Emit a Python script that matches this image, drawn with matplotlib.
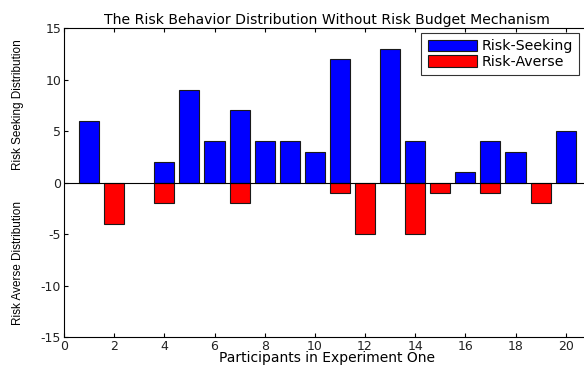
import matplotlib
matplotlib.use("Agg")
import matplotlib.pyplot as plt
import numpy as np

plt.rcParams["font.family"] = ["DejaVu Sans"]
plt.rcParams["axes.unicode_minus"] = False

participants = list(range(1, 21))
risk_seeking = [6, 0, 0, 2, 9, 4, 7, 4, 4, 3, 12, 0, 13, 4, 0, 1, 4, 3, 0, 5]
risk_averse = [0, -4, 0, -2, 0, 0, -2, 0, 0, 0, -1, -5, 0, -5, -1, 0, -1, 0, -2, 0]
x_ticks = list(range(0, 21, 2))
y_ticks = [-15, -10, -5, 0, 5, 10, 15]

fig = plt.figure(figsize=(5.84, 3.73), dpi=100)
ax = fig.add_axes([0.1096, 0.0965, 0.902, 0.8284])

seek = np.array(risk_seeking)
avert = np.array(risk_averse)
pos = np.array(participants)
ax.bar(pos[seek != 0], seek[seek != 0], width=0.8, color="#0000ff",
       edgecolor="#1a1a1a", linewidth=0.8, label="Risk-Seeking", zorder=2)
ax.bar(pos[avert != 0], avert[avert != 0], width=0.8, color="#ff0000",
       edgecolor="#1a1a1a", linewidth=0.8, label="Risk-Averse", zorder=2)
ax.axhline(0, color="black", linewidth=0.8, zorder=3)

ax.set_xlim(0, 21)
ax.set_ylim(-15, 15)
ax.set_xticks(x_ticks)
ax.set_yticks(y_ticks)
ax.tick_params(direction="in", top=True, right=False, labelsize=9, length=3,
               width=0.8, pad=2, labelcolor="#222222")
for s in ax.spines.values():
    s.set_linewidth(0.8)

ax.set_title("The Risk Behavior Distribution Without Risk Budget Mechanism",
             fontsize=10.1, pad=3)
ax.set_xlabel("Participants in Experiment One", fontsize=10, labelpad=-1)

fig.text(0.031, 0.72, "Risk Seeking Distribution", rotation=90, fontsize=8.5,
         ha="center", va="center", family="Liberation Sans")
fig.text(0.031, 0.295, "Risk Averse Distribution", rotation=90, fontsize=8.5,
         ha="center", va="center", family="Liberation Sans")

leg = ax.legend(loc="upper left", bbox_to_anchor=(0.678, 0.984), fontsize=10.2,
                frameon=True, fancybox=False, edgecolor="black",
                handlelength=3.5, handleheight=0.9, borderpad=0.45,
                labelspacing=0.12, handletextpad=0.3, borderaxespad=0)
leg.get_frame().set_linewidth(0.8)

fig.savefig("out.png", dpi=100)
